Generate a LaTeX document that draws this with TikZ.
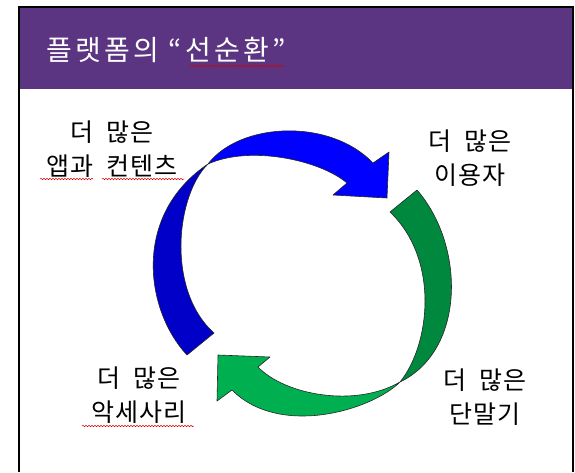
\documentclass[tikz,border=0pt]{standalone}
\usepackage{fontspec}
\usetikzlibrary{decorations.pathmorphing}
\newfontfamily\krfont[LetterSpace=4,WordSpace=2]{Noto Sans CJK KR}
\newfontfamily\krtitle[LetterSpace=12]{Noto Sans CJK KR}
\definecolor{hdrpurple}{RGB}{92,53,130}
\definecolor{bluedark}{RGB}{0,0,200}
\definecolor{bluebright}{RGB}{0,0,255}
\definecolor{greendark}{RGB}{0,136,62}
\definecolor{greenbright}{RGB}{0,176,80}
\tikzset{
  ribbon/.style={draw=black!85, line width=0.6pt, line join=round},
  lbl/.style={inner sep=0pt, align=center, font={\krfont\fontsize{25}{34}\selectfont}, text=black},
  squiggle/.style={draw=red!85!black, line width=0.5pt, decorate,
    decoration={snake, amplitude=0.7pt, segment length=3pt}}
}
\begin{document}
\begin{tikzpicture}[x=1pt, y=-1pt]
\useasboundingbox (0,0) rectangle (575,472);
\fill[white] (0,0) rectangle (575,472);
% header band
\fill[hdrpurple] (19,7) rectangle (573,89);
\draw[black, line width=2pt] (19,472) -- (19,7) -- (573,7) -- (573,472);
\node[anchor=west, inner sep=0pt, text=white, font={\krtitle\fontsize{28}{32}\selectfont}] (title) at (46,50) {플랫폼의 “선순환”};
\draw[squiggle] (190,66) -- (284,66);

% blue arrow, back (left) part
\path[ribbon, fill=bluedark]
  (187,355) .. controls (145,310) and (132,215) .. (208,164)
  .. controls (176,195) and (166,290) .. (214,333)
  -- cycle;
% blue arrow, front (upper) part with head
\path[ribbon, fill=bluebright]
  (208,164) .. controls (240,122) and (330,118) .. (373,163)
  -- (389,152) -- (387,198) -- (333,195) -- (347,183)
  .. controls (320,160) and (250,145) .. (208,164)
  -- cycle;

% green arrow, back (right) part
\path[ribbon, fill=greendark]
  (417,190) .. controls (465,245) and (466,350) .. (400,382)
  .. controls (430,345) and (440,260) .. (390,212)
  -- cycle;
% green arrow, front (lower) part with head
\path[ribbon, fill=greenbright]
  (400,382) .. controls (372,410) and (280,438) .. (232,390)
  -- (217,401) -- (218,355) -- (270,357) -- (258,367)
  .. controls (285,395) and (355,408) .. (400,382)
  -- cycle;

% labels
\node[lbl] (apps) at (112,149) {더 많은\\앱과 컨텐츠};
\node[lbl] (users) at (470,158) {더 많은\\이용자};
\node[lbl] (acc) at (139,395) {더 많은\\악세사리};
\node[lbl] (dev) at (485,397) {더 많은\\단말기};

\draw[squiggle] (40,179) -- (93,179);
\draw[squiggle] (102,179) -- (184,179);
\draw[squiggle] (82,426) -- (194,426);
\end{tikzpicture}
\end{document}
